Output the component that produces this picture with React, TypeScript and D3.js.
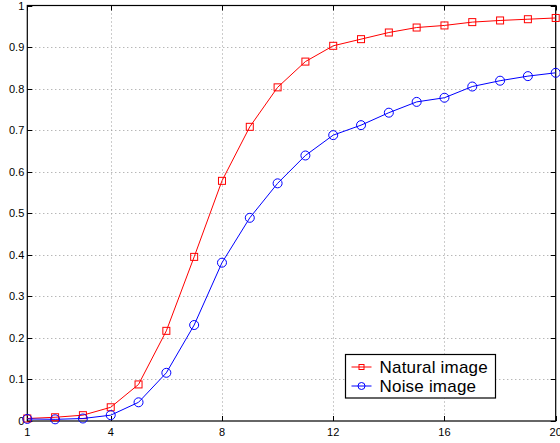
import React, { useEffect, useRef } from 'react';
import * as d3 from 'd3';

const xValues = [1, 2, 3, 4, 5, 6, 7, 8, 9, 10, 11, 12, 13, 14, 15, 16, 17, 18, 19, 20];
const naturalValues = [0.006, 0.009, 0.014, 0.033, 0.088, 0.217, 0.395, 0.578, 0.708, 0.803, 0.865, 0.903, 0.919, 0.935, 0.947, 0.952, 0.96, 0.964, 0.967, 0.97];
const noiseValues = [0.005, 0.004, 0.006, 0.014, 0.045, 0.116, 0.231, 0.381, 0.489, 0.572, 0.639, 0.688, 0.712, 0.742, 0.768, 0.778, 0.805, 0.819, 0.83, 0.838];
const xTicks = [1, 4, 8, 12, 16, 20];
const yTicks = [0, 0.1, 0.2, 0.3, 0.4, 0.5, 0.6, 0.7, 0.8, 0.9, 1];
const seriesNames = ['Natural image', 'Noise image'];

export default function App() {
  const ref = useRef<SVGSVGElement>(null);

  useEffect(() => {
    const svg = d3.select(ref.current);
    svg.selectAll('*').remove();

    const left = 27.3;
    const right = 555.7;
    const top = 5.5;
    const bottom = 421;
    const font = 'Liberation Sans, Arial, sans-serif';

    const x = d3.scaleLinear().domain([1, 20]).range([left, right]);
    const y = d3.scaleLinear().domain([0, 1]).range([bottom, top]);

    svg.append('rect').attr('width', 560).attr('height', 443).attr('fill', '#fff');

    // grid
    const grid = svg.append('g').attr('stroke', '#999').attr('stroke-width', 1).attr('stroke-dasharray', '1,3');
    grid
      .selectAll('.gx')
      .data(xTicks.filter(t => t !== 1 && t !== 20))
      .join('line')
      .attr('x1', d => Math.round(x(d)) + 0.5)
      .attr('x2', d => Math.round(x(d)) + 0.5)
      .attr('y1', top)
      .attr('y2', bottom);
    grid
      .selectAll('.gy')
      .data(yTicks.filter(t => t !== 0 && t !== 1))
      .join('line')
      .attr('y1', d => Math.round(y(d)) + 0.5)
      .attr('y2', d => Math.round(y(d)) + 0.5)
      .attr('x1', left)
      .attr('x2', right);

    // ticks (inward, all four sides)
    const tickLen = 5;
    const ticks = svg.append('g').attr('stroke', '#000').attr('stroke-width', 1);
    xTicks.forEach(t => {
      const px = Math.round(x(t)) + 0.5;
      ticks.append('line').attr('x1', px).attr('x2', px).attr('y1', bottom).attr('y2', bottom - tickLen);
      ticks.append('line').attr('x1', px).attr('x2', px).attr('y1', top).attr('y2', top + tickLen);
    });
    yTicks.forEach(t => {
      const py = Math.round(y(t)) + 0.5;
      ticks.append('line').attr('y1', py).attr('y2', py).attr('x1', left).attr('x2', left + tickLen);
      ticks.append('line').attr('y1', py).attr('y2', py).attr('x1', right).attr('x2', right - tickLen);
    });

    // box
    svg
      .append('rect')
      .attr('x', left)
      .attr('y', top)
      .attr('width', right - left)
      .attr('height', bottom - top)
      .attr('fill', 'none')
      .attr('stroke', '#000')
      .attr('stroke-width', 1.2);

    // tick labels
    svg
      .selectAll('.xl')
      .data(xTicks)
      .join('text')
      .attr('x', d => x(d))
      .attr('y', bottom + 15)
      .attr('text-anchor', 'middle')
      .attr('font-family', font)
      .attr('font-size', 11)
      .text(d => d);
    svg
      .selectAll('.yl')
      .data(yTicks)
      .join('text')
      .attr('x', left - 3)
      .attr('y', d => y(d) + 4)
      .attr('text-anchor', 'end')
      .attr('font-family', font)
      .attr('font-size', 11)
      .text(d => d);

    const line = d3
      .line<number>()
      .x((d, i) => x(xValues[i]))
      .y(d => y(d));

    // natural image
    svg.append('path').datum(naturalValues).attr('d', line).attr('fill', 'none').attr('stroke', '#f00').attr('stroke-width', 1);
    svg
      .selectAll('.sq')
      .data(naturalValues)
      .join('rect')
      .attr('x', (d, i) => x(xValues[i]) - 3.5)
      .attr('y', d => y(d) - 3.5)
      .attr('width', 7)
      .attr('height', 7)
      .attr('fill', 'none')
      .attr('stroke', '#f00');

    // noise image
    svg.append('path').datum(noiseValues).attr('d', line).attr('fill', 'none').attr('stroke', '#00f').attr('stroke-width', 1);
    svg
      .selectAll('.ci')
      .data(noiseValues)
      .join('circle')
      .attr('cx', (d, i) => x(xValues[i]))
      .attr('cy', d => y(d))
      .attr('r', 4.5)
      .attr('fill', 'none')
      .attr('stroke', '#00f');

    // legend
    const legend = svg.append('g').attr('transform', 'translate(345.5, 354.5)');
    legend
      .append('rect')
      .attr('width', 150)
      .attr('height', 43.5)
      .attr('fill', '#fff')
      .attr('stroke', '#000')
      .attr('stroke-width', 1.2);
    const colors = ['#f00', '#00f'];
    seriesNames.forEach((name, i) => {
      const ry = 12.5 + i * 19;
      legend.append('line').attr('x1', 6).attr('x2', 26).attr('y1', ry).attr('y2', ry).attr('stroke', colors[i]);
      if (i === 0) {
        legend.append('rect').attr('x', 13.5).attr('y', ry - 2.5).attr('width', 5).attr('height', 5).attr('fill', 'none').attr('stroke', colors[i]);
      } else {
        legend.append('circle').attr('cx', 16).attr('cy', ry).attr('r', 3.5).attr('fill', 'none').attr('stroke', colors[i]);
      }
      legend
        .append('text')
        .attr('x', 34)
        .attr('y', ry + 6)
        .attr('font-family', font)
        .attr('font-size', 17)
        .attr('letter-spacing', 0.2)
        .text(name);
    });
  }, []);

  return <svg ref={ref} width={560} height={443} style={{ position: 'absolute', left: 0, top: 0 }} />;
}
